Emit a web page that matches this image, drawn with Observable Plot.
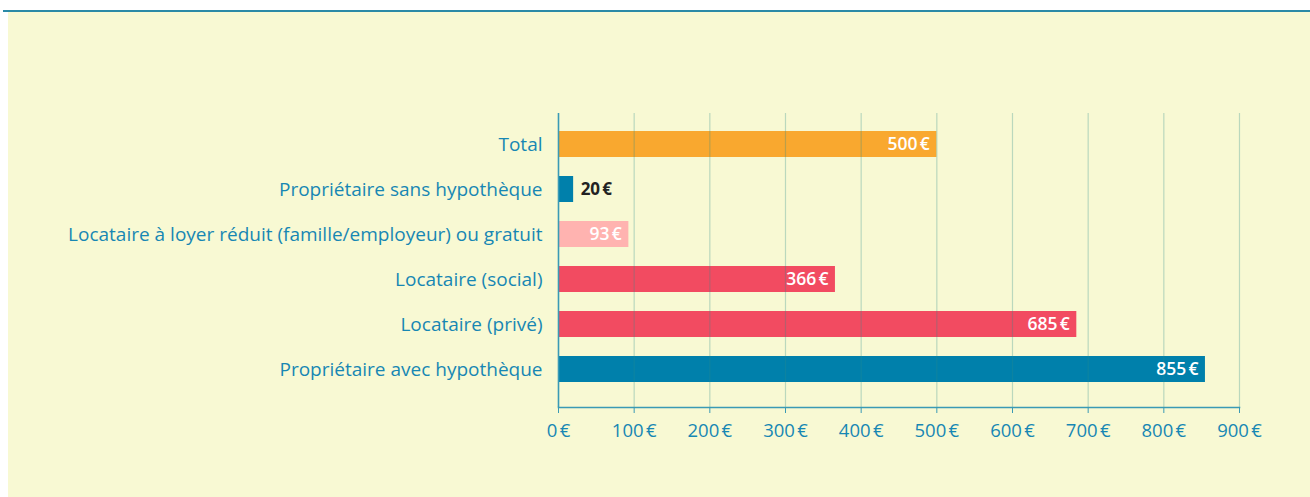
<!DOCTYPE html>
<html><head><meta charset="utf-8">
<script src="https://cdn.jsdelivr.net/npm/d3@7"></script>
<script src="https://cdn.jsdelivr.net/npm/@observablehq/plot@0.6"></script>
<style>
html,body{margin:0;padding:0;background:#fff;width:1310px;height:497px;overflow:hidden}
#rule{position:absolute;left:3px;top:10px;width:1307px;height:2px;background:#2b8aa6}
#panel{position:absolute;left:8px;top:12px;width:1302px;height:485px;background:#f8f9d3}
#chart{position:absolute;left:0;top:0}
</style></head><body>
<div id="rule"></div><div id="panel"></div><div id="chart"></div>
<script>
const categories = [
  "Total",
  "Propriétaire sans hypothèque",
  "Locataire à loyer réduit (famille/employeur) ou gratuit",
  "Locataire (social)",
  "Locataire (privé)",
  "Propriétaire avec hypothèque"
];
const values = [500, 20, 93, 366, 685, 855];
const colors = ["#f9a82f", "#0080ab", "#ffb3b0", "#f24b61", "#f24b61", "#0080ab"];
const labelInside = [true, false, true, true, true, true];
const ticks = [0, 100, 200, 300, 400, 500, 600, 700, 800, 900];

const data = categories.map((c, i) => ({category: c, value: values[i], color: colors[i], inside: labelInside[i]}));
const euro = d => d + "\u202f€";
const teal = "#1787b3";

const chart = Plot.plot({
  width: 1310, height: 497,
  marginLeft: 558, marginRight: 71, marginTop: 113, marginBottom: 90,
  style: {background: "transparent", fontFamily: "'Open Sans', sans-serif"},
  x: {domain: [0, 900], ticks, label: null},
  y: {domain: categories, paddingInner: 0.412, paddingOuter: 0.374, insetBottom: 6, label: null},
  marks: [
    Plot.barX(data, {x: "value", y: "category", fill: "color"}),
    Plot.ruleX(ticks.slice(1), {stroke: "#2a8a8a", strokeOpacity: 0.3, strokeWidth: 1.2}),
    Plot.ruleX([0], {stroke: "#3a9ab5", strokeWidth: 1.6}),
    Plot.frame({anchor: "bottom", stroke: "#3a9ab5", strokeWidth: 1.6}),
    Plot.axisX({ticks, tickSize: 6, tickPadding: 10, fontSize: 18.5, color: teal, stroke: "#3a9ab5", tickFormat: euro, label: null}),
    Plot.axisY({tickSize: 0, tickPadding: 16, fontSize: 19, color: teal, label: null}),
    Plot.text(data.filter(d => d.inside), {x: "value", y: "category", text: d => euro(d.value), textAnchor: "end", dx: -7, fill: "white", fontSize: 17.5, fontWeight: 600}),
    Plot.text(data.filter(d => !d.inside), {x: "value", y: "category", text: d => euro(d.value), textAnchor: "start", dx: 7, fill: "#222", fontSize: 17, fontWeight: 700})
  ]
});
document.getElementById("chart").append(chart);
</script>
</body></html>
